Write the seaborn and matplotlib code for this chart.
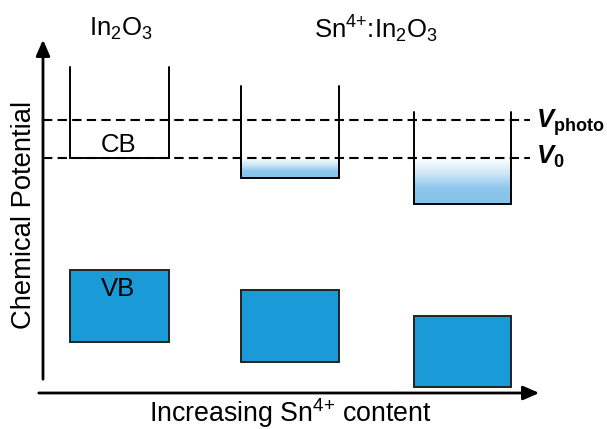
import numpy as np
import matplotlib
matplotlib.use("Agg")
import matplotlib.pyplot as plt
import seaborn as sns
from matplotlib.colors import LinearSegmentedColormap
from matplotlib.patches import Rectangle

# ---- data (arbitrary energy units, up = higher chemical potential) ----
samples = ["In$_2$O$_3$", "Sn$^{4+}$:In$_2$O$_3$ (low)", "Sn$^{4+}$:In$_2$O$_3$ (high)"]
box_left = [70, 241, 414]
box_right = [169, 339, 511]
cb_bottom = [271, 251, 225]
cb_wall_top = [362, 343, 317]
vb_top = [159, 139, 113]
vb_bottom = [87, 67, 42]
v0_level = 271
vphoto_level = 309

sns.set_theme(style="white")
plt.rcParams["font.family"] = ["Liberation Sans", "DejaVu Sans"]
plt.rcParams["text.color"] = "black"
plt.rcParams["mathtext.fontset"] = "custom"
plt.rcParams["mathtext.rm"] = "Liberation Sans"
plt.rcParams["mathtext.it"] = "Liberation Sans:italic"
plt.rcParams["mathtext.bf"] = "Liberation Sans:bold"
plt.rcParams["mathtext.bfit"] = "Liberation Sans:italic:bold"

fig = plt.figure(figsize=(6.07, 4.29), dpi=100)
ax = fig.add_axes([0, 0, 1, 1])
ax.set_xlim(0, 607)
ax.set_ylim(0, 429)
ax.axis("off")

vb_color = "#1a9ad6"
grad = LinearSegmentedColormap.from_list("g", ["#ffffff", "#cfe6f6", "#8cc6ec", "#86c2ea"])

# dashed potential levels
for lvl in (vphoto_level, v0_level):
    sns.lineplot(x=[43, 530], y=[lvl, lvl], ax=ax, color="black", lw=1.5,
                 linestyle=(0, (4.5, 2.5)), legend=False)

for i in range(len(samples)):
    l, r = box_left[i], box_right[i]
    # electron filling of the conduction band up to V0
    if cb_bottom[i] < v0_level:
        g = np.linspace(0, 1, 100).reshape(-1, 1)
        ax.imshow(g, cmap=grad, aspect="auto", origin="upper",
                  extent=(l, r, cb_bottom[i], v0_level), zorder=1)
    # conduction band walls
    ax.plot([l, l, r, r], [cb_wall_top[i], cb_bottom[i], cb_bottom[i], cb_wall_top[i]],
            color="black", lw=1.4, zorder=3, solid_joinstyle="miter")
    # valence band
    ax.add_patch(Rectangle((l, vb_bottom[i]), r - l, vb_top[i] - vb_bottom[i],
                           facecolor=vb_color, edgecolor="#222222", lw=1.4, zorder=2))

ax.text(118.5, 284.5, "CB", ha="center", va="center", fontsize=18.5)
ax.text(118.5, 140.5, "VB", ha="center", va="center", fontsize=18.5)

ax.text(121, 400, "In$_2$O$_3$", ha="center", va="center", fontsize=18.5)
ax.text(376, 400, r"Sn$^{4{+}}$:In$_2$O$_3$", ha="center", va="center", fontsize=18.5)

ax.text(536, 301, r"$\mathbfit{V}_{\mathbf{photo}}$", ha="left", va="baseline", fontsize=18.5)
ax.text(536, 265, r"$\mathbfit{V}_{\mathbf{0}}$", ha="left", va="baseline", fontsize=18.5)

# axes arrows
ax.annotate("", xy=(43, 392), xytext=(43, 47),
            arrowprops=dict(arrowstyle="-|>,head_length=0.8,head_width=0.35", color="black", lw=2))
ax.annotate("", xy=(542, 36), xytext=(36, 36),
            arrowprops=dict(arrowstyle="-|>,head_length=0.8,head_width=0.35", color="black", lw=2))

ax.text(24, 214, "Chemical Potential", rotation=90, ha="center", va="center", fontsize=19.7)
ax.text(290, 16, r"Increasing Sn$^{4{+}}$ content", ha="center", va="center", fontsize=19.3)

fig.savefig("out.png", dpi=100)
